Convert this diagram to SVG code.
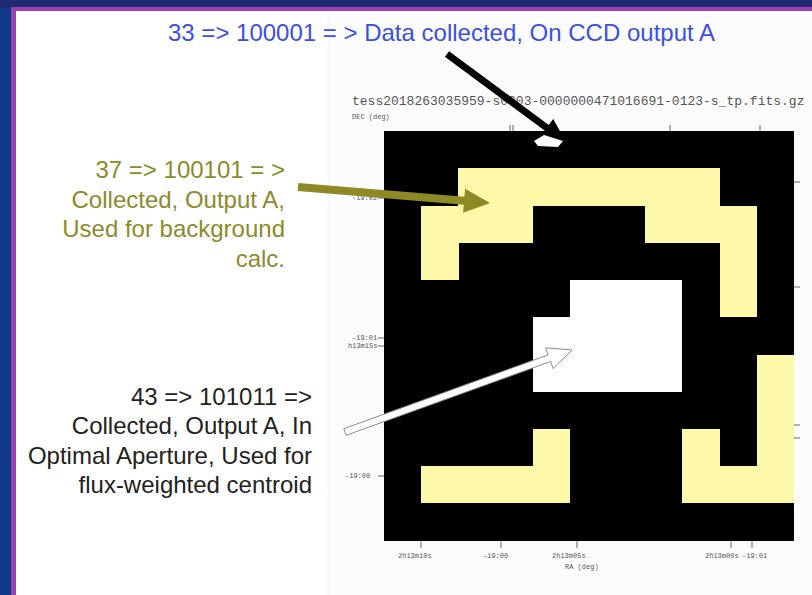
<svg xmlns="http://www.w3.org/2000/svg" width="812" height="595" viewBox="0 0 812 595">
<style>
.lbl{font-family:"Liberation Sans",Arial,sans-serif;font-size:24px}
.ax{font-family:"Liberation Mono","Courier New",monospace;font-size:7px;fill:#555}
.yel{fill:#fdf9a8;shape-rendering:crispEdges}
.wht{fill:#ffffff;shape-rendering:crispEdges}
.tick{stroke:#666;stroke-width:1}
</style>
<rect x="0" y="0" width="812" height="595" fill="#1f2a70"/>
<rect x="0" y="8" width="12" height="587" fill="#133a8a"/>
<rect x="11" y="7" width="801" height="588" fill="#9b40b0"/>
<rect x="16" y="11" width="796" height="584" fill="#ffffff"/>
<rect x="328" y="11" width="484" height="584" fill="#fcfcfc"/>
<line x1="328" y1="11" x2="328" y2="595" stroke="#f0f0f0" stroke-width="1"/>

<g id="plot">
  <text x="352" y="105" font-family="Liberation Mono, Courier New, monospace" font-size="13" fill="#555">tess2018263035959-s0003-0000000471016691-0123-s_tp.fits.gz</text>
  <text class="ax" x="352" y="119">DEC (deg)</text>
  <rect x="384" y="131" width="410" height="410" fill="#000" shape-rendering="crispEdges"/>
  <path class="yel" d="M458,168 H720 V206 H458 Z M421,206 H533 V243 H459 V280 H421 Z M645,206 H757 V317 H720 V243 H645 Z"/>
  <path class="wht" d="M570,280 H682 V392 H533 V317 H570 Z"/>
  <path class="yel" d="M533,429 H570 V503 H421 V466 H533 Z M757,355 H794 V503 H682 V429 H720 V466 H757 Z"/>
  <g class="tick">
    <line x1="510" y1="125" x2="510" y2="131"/><line x1="513" y1="125" x2="513" y2="131"/>
    <line x1="670" y1="125" x2="670" y2="131"/><line x1="760" y1="125" x2="760" y2="131"/>
    <line x1="794" y1="182" x2="800" y2="182"/><line x1="794" y1="287" x2="800" y2="287"/>
    <line x1="794" y1="425" x2="800" y2="425"/><line x1="794" y1="438" x2="800" y2="438"/>
    <line x1="378" y1="198" x2="384" y2="198"/><line x1="378" y1="338" x2="384" y2="338"/>
    <line x1="378" y1="346" x2="384" y2="346"/><line x1="378" y1="476" x2="384" y2="476"/>
    <line x1="421" y1="541" x2="421" y2="548"/><line x1="501" y1="541" x2="501" y2="548"/>
    <line x1="577" y1="541" x2="577" y2="548"/><line x1="731" y1="541" x2="731" y2="548"/>
    <line x1="752" y1="541" x2="752" y2="548"/>
  </g>
  <text class="ax" x="352" y="200">-19:02</text>
  <text class="ax" x="352" y="340">-19:01</text>
  <text class="ax" x="348" y="348">h13m15s</text>
  <text class="ax" x="345" y="478">-19:00</text>
  <text class="ax" x="398" y="558">2h13m10s</text>
  <text class="ax" x="483" y="558">-19:00</text>
  <text class="ax" x="552" y="558">2h13m05s</text>
  <text class="ax" x="705" y="558">2h13m00s</text>
  <text class="ax" x="742" y="558">-19:01</text>
  <text class="ax" x="565" y="569">RA (deg)</text>
</g>

<g id="label-33">
  <text class="lbl" x="168" y="41" fill="#3b50e2">33 =&gt; 100001 = &gt; Data collected, On CCD output A</text>
</g>
<g id="label-37" fill="#8c8a2a">
  <text class="lbl" x="285" y="178" text-anchor="end">37 =&gt; 100101 = &gt;</text>
  <text class="lbl" x="285" y="208" text-anchor="end">Collected, Output A,</text>
  <text class="lbl" x="285" y="237" text-anchor="end">Used for background</text>
  <text class="lbl" x="285" y="267" text-anchor="end">calc.</text>
</g>
<g id="label-43" fill="#222">
  <text class="lbl" x="312" y="405" text-anchor="end">43 =&gt; 101011 =&gt;</text>
  <text class="lbl" x="312" y="434" text-anchor="end">Collected, Output A, In</text>
  <text class="lbl" x="312" y="464" text-anchor="end">Optimal Aperture, Used for</text>
  <text class="lbl" x="312" y="493" text-anchor="end">flux-weighted centroid</text>
</g>

<g id="connectors">
  <polygon fill="#000" points="449.1,51.2 548.8,124.9 553.2,118.9 566,142 540.2,136.5 544.6,130.5 444.9,56.8"/>
  <polygon fill="#fff" points="534,141 544,135 563,141 558,147 538,146"/>
  <polygon fill="#8d8a26" points="298.3,183 464.4,196.8 465.1,188.8 490,203 463.1,212.8 463.8,204.8 297.7,191"/>
  <polygon fill="#fff" stroke="#8a8a8a" stroke-width="1" points="343.8,428.7 548.2,354.9 545.7,347.8 572,350 553.1,368.6 550.6,361.5 346.2,435.3"/>
</g>
</svg>
